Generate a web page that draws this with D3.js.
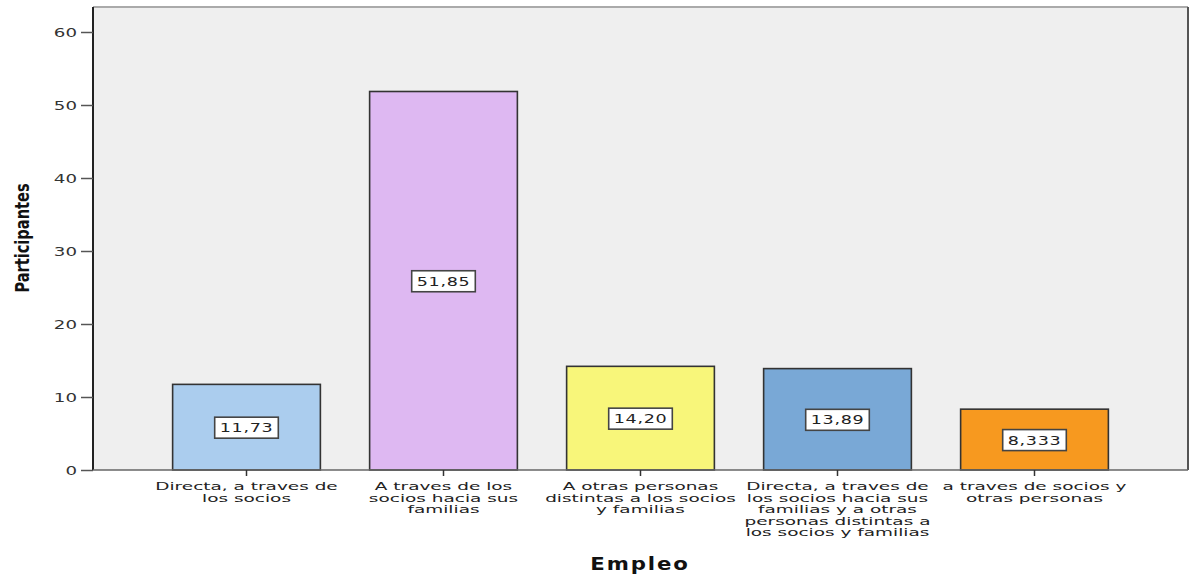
<!DOCTYPE html>
<html><head><meta charset="utf-8">
<script src="https://cdn.jsdelivr.net/npm/d3@7"></script>
<style>body{margin:0;background:#fff}</style>
</head><body>
<svg id="c" width="1197" height="578"></svg>
<script>
const categories = [
  ["Directa, a traves de", "los socios"],
  ["A traves de los", "socios hacia sus", "familias"],
  ["A otras personas", "distintas a los socios", "y familias"],
  ["Directa, a traves de", "los socios hacia sus", "familias y a otras", "personas distintas a", "los socios y familias"],
  ["a traves de socios y", "otras personas"]
];
const values = [11.73, 51.85, 14.20, 13.89, 8.333];
const valueLabels = ["11,73", "51,85", "14,20", "13,89", "8,333"];
const colors = ["#abcdee", "#deb8f2", "#f8f67a", "#79a8d6", "#f7991f"];
const yTicks = [0, 10, 20, 30, 40, 50, 60];

const svg = d3.select("#c");
const plot = {left: 93, right: 1188, top: 7, bottom: 470};
const font = "'DejaVu Sans', Verdana, sans-serif";

const y = d3.scaleLinear().domain([0, 60]).range([470, 32]);
const x = d3.scaleBand().domain(d3.range(values.length))
  .range([plot.left + 55, plot.right - 55]).paddingInner(0.25).paddingOuter(0.125);

// background
svg.append("rect").attr("x", plot.left).attr("y", plot.top)
  .attr("width", plot.right - plot.left).attr("height", plot.bottom - plot.top)
  .attr("fill", "#efefef");
svg.append("line").attr("x1", plot.left).attr("x2", plot.right).attr("y1", plot.top).attr("y2", plot.top)
  .attr("stroke", "#aaa").attr("stroke-width", 2);
svg.append("line").attr("x1", plot.right).attr("x2", plot.right).attr("y1", plot.top).attr("y2", plot.bottom)
  .attr("stroke", "#555").attr("stroke-width", 2);

// bars
svg.selectAll("rect.bar").data(values).join("rect").attr("class", "bar")
  .attr("x", (d, i) => x(i)).attr("width", x.bandwidth())
  .attr("y", d => y(d)).attr("height", d => y(0) - y(d))
  .attr("fill", (d, i) => colors[i]).attr("stroke", "#333").attr("stroke-width", 1.6);

// y axis
const yAxis = d3.axisLeft(y).tickValues(yTicks).tickSize(12).tickFormat("");
const gy = svg.append("g").attr("transform", `translate(${plot.left},0)`).call(yAxis);
gy.select(".domain").attr("stroke", "#222").attr("stroke-width", 2).attr("d", `M0,${plot.top}V${plot.bottom}`);
gy.selectAll(".tick line").attr("stroke", "#555").attr("stroke-width", 1.5);
yTicks.forEach(t => {
  svg.append("text").attr("transform", `translate(77,${y(t) + 5}) scale(1.4,1)`)
    .attr("text-anchor", "end").attr("font-family", font).attr("font-size", 13)
    .attr("fill", "#333").text(t);
});

// x axis
const xAxis = d3.axisBottom(x).tickSize(6).tickFormat("");
const gx = svg.append("g").attr("transform", `translate(0,${plot.bottom})`).call(xAxis);
gx.select(".domain").attr("stroke", "#666").attr("stroke-width", 1.5).attr("d", `M${plot.left},0H${plot.right}`);
gx.selectAll(".tick line").attr("stroke", "#333").attr("stroke-width", 1.5);

// category labels (wide glyphs as in the original)
categories.forEach((lines, i) => {
  const cx = x(i) + x.bandwidth() / 2;
  lines.forEach((l, j) => {
    svg.append("text").attr("transform", `translate(${cx},${490 + j * 11.5}) scale(1.68,1)`)
      .attr("text-anchor", "middle").attr("font-family", font).attr("font-size", 11)
      .attr("fill", "#222").text(l);
  });
});

// value labels
values.forEach((v, i) => {
  const cx = x(i) + x.bandwidth() / 2;
  const cy = (y(v) + y(0)) / 2;
  const g = svg.append("g");
  const txt = g.append("text").attr("transform", `translate(${cx},${cy + 5}) scale(1.35,1)`)
    .attr("text-anchor", "middle").attr("font-family", font).attr("font-size", 13)
    .attr("fill", "#222").attr("letter-spacing", 0.5).text(valueLabels[i]);
  const w = txt.node().getBBox().width * 1.35;
  g.insert("rect", "text").attr("x", cx - w / 2 - 5).attr("y", cy - 10).attr("width", w + 10).attr("height", 21)
    .attr("fill", "#fff").attr("stroke", "#444").attr("stroke-width", 1.6);
});

// axis titles
svg.append("text").attr("transform", "translate(29,238) rotate(-90) scale(0.73,1)")
  .attr("text-anchor", "middle").attr("font-family", font).attr("font-weight", "bold")
  .attr("font-size", 20).attr("fill", "#111").text("Participantes");
svg.append("text").attr("transform", "translate(640,570) scale(1.25,1)")
  .attr("text-anchor", "middle").attr("font-family", font).attr("font-weight", "bold").attr("font-size", 17)
  .attr("letter-spacing", 1.5).attr("fill", "#111").text("Empleo");
</script>
</body></html>
